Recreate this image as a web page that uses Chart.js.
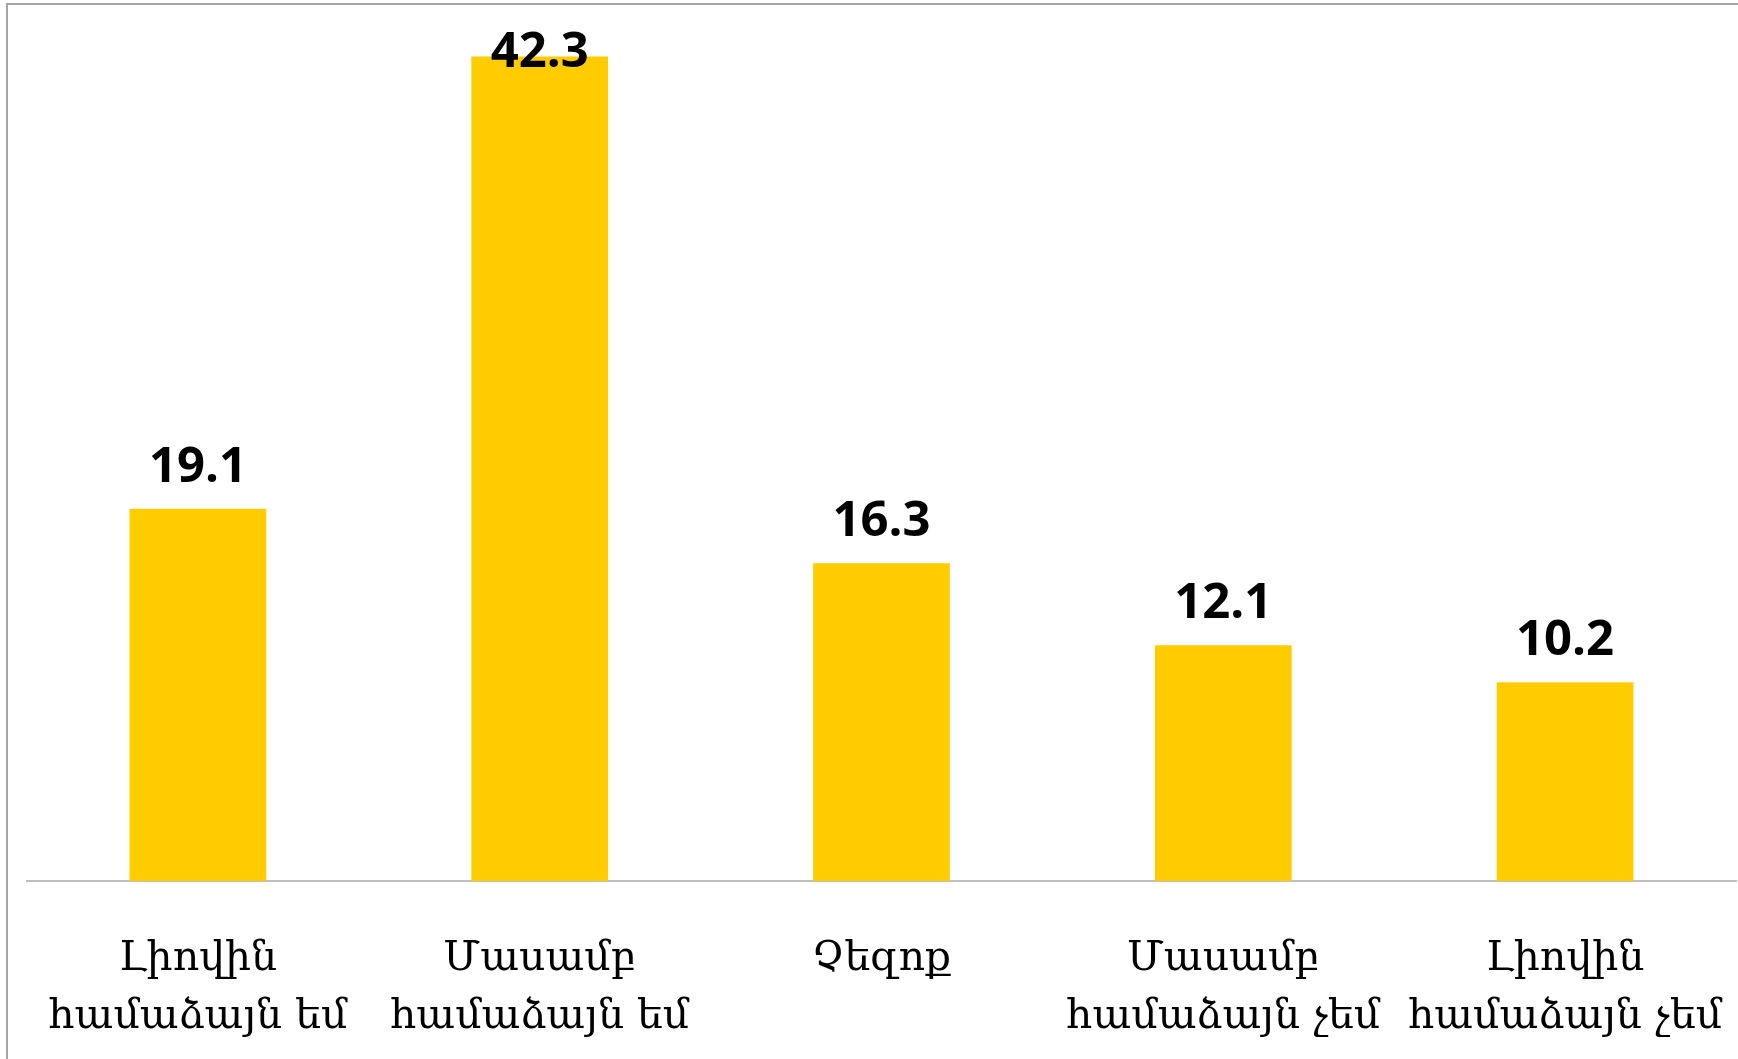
<!DOCTYPE html>
<html>
<head>
<meta charset="utf-8">
<script src="https://cdn.jsdelivr.net/npm/chart.js@4/dist/chart.umd.min.js"></script>
<style>
  html, body { margin: 0; padding: 0; background: #fff; }
  #wrap { position: relative; width: 1738px; height: 1059px; }
</style>
</head>
<body>
<div id="wrap"><canvas id="bars" width="1738" height="1059"></canvas></div>
<script>
// answers (two lines each) and their shares in %
let categories = [
    ['Լիովին', 'համաձայն եմ'],
    ['Մասամբ', 'համաձայն եմ'],
    ['Չեզոք'],
    ['Մասամբ', 'համաձայն չեմ'],
    ['Լիովին', 'համաձայն չեմ']
];
let shares = [19.1, 42.3, 16.3, 12.1, 10.2];
let yMin = 0;
let yMax = 45;

// frame lines on top and left, like the original chart box
const frame = {
    id: 'frame',
    beforeDraw(chart) {
        const c = chart.ctx;
        const top = chart.chartArea.top;
        c.save();
        c.strokeStyle = '#a6a6a6';
        c.lineWidth = 2;
        c.beginPath();
        c.moveTo(7, chart.height);
        c.lineTo(7, top);
        c.lineTo(chart.width, top);
        c.stroke();
        c.restore();
    }
};

// value labels above the bars
const valueLabels = {
    id: 'valueLabels',
    afterDatasetsDraw(chart) {
        const c = chart.ctx;
        const meta = chart.getDatasetMeta(0);
        c.save();
        c.font = 'bold 49px "Open Sans", "Liberation Sans", sans-serif';
        c.fillStyle = '#000';
        c.textAlign = 'center';
        c.textBaseline = 'middle';
        meta.data.forEach((bar, i) => {
            let y = Math.max(bar.y - 41, chart.chartArea.top + 49);
            c.fillText(shares[i].toFixed(1), bar.x, y);
        });
        c.restore();
    }
};

const ctx = document.getElementById('bars');

let chart = new Chart(ctx, {
    type: 'bar',
    data: {
        labels: categories,
        datasets: [{
            data: shares,
            backgroundColor: '#FFCC00',
            borderWidth: 0,
            categoryPercentage: 1,
            barPercentage: 0.4
        }]
    },
    options: {
        responsive: false,
        animation: false,
        layout: { padding: { left: 27, top: 4, right: 2, bottom: 0 } },
        plugins: {
            legend: { display: false },
            tooltip: { enabled: false }
        },
        scales: {
            y: {
                display: false,
                min: yMin,
                max: yMax
            },
            x: {
                grid: { display: false },
                border: { display: true, color: '#bfbfbf', width: 2 },
                ticks: {
                    color: '#000',
                    padding: 42,
                    maxRotation: 0,
                    autoSkip: false,
                    font: { family: '"DejaVu Serif", serif', size: 41, lineHeight: 1.4 }
                },
                afterFit(scale) {
                    scale.height = 178;
                    scale.paddingLeft = 0;
                    scale.paddingRight = 0;
                }
            }
        }
    },
    plugins: [frame, valueLabels]
});
</script>
</body>
</html>
